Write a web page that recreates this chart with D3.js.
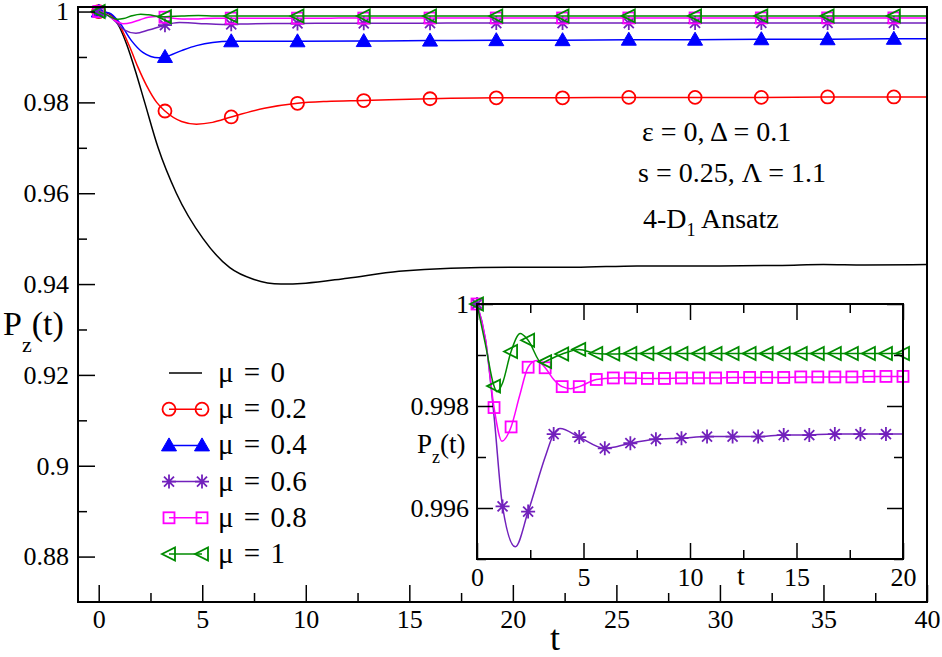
<!DOCTYPE html>
<html lang="en">
<head>
<meta charset="utf-8">
<title>Pz(t)</title>
<script src="https://d3js.org/d3.v7.min.js"></script>
<style>
  body { margin: 0; background: #fff; }
</style>
</head>
<body>
<div id="chart"></div>
<script>
// values, [t, Pz(t)]
const mu0 = [[0,1],[0.5,0.9995],[1,0.9966],[1.34,0.9929],[1.82,0.9862],[2.22,0.980],[2.87,0.970],
  [3.75,0.960],[5.04,0.950],[6.33,0.9436],[7.5,0.9410],[8.8,0.9400],[10,0.9402],[12,0.9413],
  [14.5,0.9428],[17,0.9435],[20,0.9437],[23,0.9437],[26,0.9440],[30,0.9440],[33,0.9441],
  [35,0.9443],[37,0.9442],[40,0.9443]];

const mu02 = [[0,1],[0.5,0.9996],[1,0.9970],[1.5,0.9922],[1.9,0.9877],[2.3,0.9838],[2.8,0.9800],
  [3.2,0.9781],[4,0.9758],[4.72,0.9752],[5.5,0.9756],[6.4,0.9768],[8,0.9787],[9.6,0.9798],
  [11,0.9802],[12.8,0.9804],[16,0.9808],[19.2,0.9810],[22.4,0.9810],[25.6,0.9811],[28.8,0.9811],
  [32,0.9811],[35.2,0.9812],[38.4,0.9812],[40,0.9812]];

const mu04 = [[0,1],[0.5,0.9997],[1,0.9976],[1.58,0.9936],[2.13,0.9910],[2.9,0.9898],[3.2,0.9900],
  [4,0.9914],[4.72,0.9925],[5.5,0.9932],[6.4,0.99345],[9.6,0.99345],[12.8,0.9935],[16,0.9936],
  [19.2,0.9937],[22.4,0.9937],[25.6,0.9938],[28.8,0.9938],[32,0.9939],[35.2,0.9939],
  [38.4,0.9940],[40,0.9940]];

const mu06 = [[0,1],[0.4,0.9993],[0.8,0.9978],[1.2,0.99603],[1.8,0.99524],[2.4,0.99593],
  [3.2,0.9970],[3.6,0.99745],[3.9,0.99756],[4.8,0.99739],[6,0.99717],[6.4,0.99719],
  [7.2,0.99727],[8.4,0.99735],[9.6,0.99737],[10.8,0.9974],[12,0.9974],[12.8,0.9974],
  [13.2,0.9974],[14.4,0.99743],[15.6,0.99743],[16,0.99744],[16.8,0.99745],[18,0.99745],
  [19.2,0.99745],[22.4,0.99746],[25.6,0.99747],[28.8,0.99748],[32,0.99749],[35.2,0.9975],
  [38.4,0.9975],[40,0.9975]];

const mu08 = [[0,1],[0.4,0.9993],[0.8,0.99797],[1.17,0.99731],[1.6,0.99759],[2,0.9982],
  [2.4,0.99876],[2.8,0.99889],[3.2,0.99875],[3.6,0.99852],[4,0.99838],[4.4,0.99834],
  [4.8,0.99838],[5.6,0.99852],[6.4,0.99855],[7.2,0.99855],[8,0.99854],[8.8,0.99854],
  [9.6,0.99855],[10.4,0.99855],[11.2,0.99855],[12,0.99856],[12.8,0.99856],[13.6,0.99856],
  [14.4,0.99856],[15.2,0.99857],[16,0.99857],[16.8,0.99857],[17.6,0.99857],[18.4,0.99858],
  [19.2,0.99858],[20,0.99858],[22.4,0.99858],[25.6,0.99859],[28.8,0.99859],[32,0.9986],
  [35.2,0.9986],[38.4,0.9986],[40,0.9986]];

const mu1 = [[0,1],[0.4,0.9992],[0.8,0.99839],[0.94,0.99828],[1.2,0.99845],[1.6,0.99907],
  [2.03,0.99942],[2.4,0.99929],[3.05,0.99884],[3.2,0.99887],[4,0.99902],[4.8,0.99911],
  [5.6,0.99903],[6.4,0.99902],[7.2,0.99903],[8,0.99903],[8.8,0.99903],[9.6,0.99903],
  [10.4,0.99903],[11.2,0.99903],[12,0.99903],[12.8,0.99903],[13.6,0.99903],[14.4,0.99903],
  [15.2,0.99903],[16,0.99903],[16.8,0.99903],[17.6,0.99903],[18.4,0.99903],[19.2,0.99903],
  [20,0.99903],[22.4,0.99903],[25.6,0.99904],[28.8,0.99904],[32,0.99904],[35.2,0.99904],
  [38.4,0.99904],[40,0.99904]];

const muLabels = ["\u03bc = 0", "\u03bc = 0.2", "\u03bc = 0.4", "\u03bc = 0.6", "\u03bc = 0.8", "\u03bc = 1"];

const xTicks = [0, 5, 10, 15, 20, 25, 30, 35, 40];
const xMinor = [2.5, 7.5, 12.5, 17.5, 22.5, 27.5, 32.5, 37.5];
const yTicks = [0.88, 0.9, 0.92, 0.94, 0.96, 0.98, 1];
const yMinor = [0.89, 0.91, 0.93, 0.95, 0.97, 0.99];

const inXTicks = [0, 5, 10, 15, 20];
const inXMinor = [2.5, 7.5, 12.5, 17.5];
const inYTicks = [0.996, 0.998, 1];
const inYMinor = [0.995, 0.997, 0.999];

// series setup: colour, marker, marker step in main plot / inset
const series = [
  {data: mu0,  color: "#000000", sym: null,     step: null, inStep: null},
  {data: mu02, color: "#ff0000", sym: "circle", step: 3.2,  inStep: null},
  {data: mu04, color: "#0000ff", sym: "tri",    step: 3.2,  inStep: null},
  {data: mu06, color: "#7221bc", sym: "star",   step: 3.2,  inStep: 1.2},
  {data: mu08, color: "#ff00ff", sym: "square", step: 3.2,  inStep: 0.8},
  {data: mu1,  color: "#008b00", sym: "ltri",   step: 3.2,  inStep: 0.8}
];

const FONT = "Liberation Serif";
const W = 942, H = 657;
const svg = d3.select("#chart").append("svg")
  .attr("width", W).attr("height", H)
  .attr("font-family", FONT);

// main plot frame
const fr = {left: 78, right: 927, top: 7, bottom: 602};
const x = d3.scaleLinear().domain([-1, 40]).range([fr.left, fr.right]);
const y = d3.scaleLinear().domain([0.87, 1.001]).range([fr.bottom, fr.top]);

// inset frame
const ir = {left: 477, right: 903, top: 304, bottom: 559};
const ix = d3.scaleLinear().domain([0, 20]).range([ir.left, ir.right]);
const iy = d3.scaleLinear().domain([0.995, 1]).range([ir.bottom, ir.top]);

const defs = svg.append("defs");
defs.append("clipPath").attr("id", "clipMain").append("rect")
  .attr("x", fr.left).attr("y", fr.top).attr("width", fr.right - fr.left).attr("height", fr.bottom - fr.top);
defs.append("clipPath").attr("id", "clipIn").append("rect")
  .attr("x", ir.left).attr("y", ir.top).attr("width", ir.right - ir.left).attr("height", ir.bottom - ir.top);

function onStep(t, step) {
  const k = t / step;
  return Math.abs(k - Math.round(k)) < 1e-6;
}

// draws one marker at (0,0)
function drawSym(g, sym, color) {
  if (sym === "circle") {
    g.append("circle").attr("r", 6.5).attr("fill", "none").attr("stroke", color).attr("stroke-width", 1.8);
  } else if (sym === "tri") {
    g.append("path").attr("d", "M0,-7.5L7.5,5.5L-7.5,5.5Z").attr("fill", color).attr("stroke", color).attr("stroke-width", 1);
  } else if (sym === "star") {
    g.append("path").attr("d", "M-7,0L7,0M0,-7L0,7M-5,-5L5,5M-5,5L5,-5")
      .attr("fill", "none").attr("stroke", color).attr("stroke-width", 1.8);
  } else if (sym === "square") {
    g.append("rect").attr("x", -5.5).attr("y", -5.5).attr("width", 11).attr("height", 11)
      .attr("fill", "none").attr("stroke", color).attr("stroke-width", 1.8);
  } else if (sym === "ltri") {
    g.append("path").attr("d", "M-7,0L6,-6.5L6,6.5Z").attr("fill", "none").attr("stroke", color).attr("stroke-width", 1.8);
  }
}

// lines are clipped to the frame, markers are not
function plotSeries(lineLayer, markLayer, xs, ys, s, step, tMax) {
  const line = d3.line()
    .x(d => xs(d[0])).y(d => ys(d[1]))
    .curve(d3.curveMonotoneX);
  lineLayer.append("path")
    .datum(s.data)
    .attr("fill", "none")
    .attr("stroke", s.color)
    .attr("stroke-width", 1.5)
    .attr("d", line);
  if (!s.sym || !step) return;
  markLayer.selectAll(null)
    .data(s.data.filter(d => d[0] <= tMax + 1e-9 && onStep(d[0], step)))
    .join("g")
      .attr("transform", d => `translate(${xs(d[0])},${ys(d[1])})`)
      .each(function() { drawSym(d3.select(this), s.sym, s.color); });
}

// ---- main plot curves
series.forEach(s => {
  const g = svg.append("g");
  plotSeries(g.append("g").attr("clip-path", "url(#clipMain)"), g, x, y, s, s.step, 40);
});

// main axes, ticks pointing inward
svg.append("g")
  .attr("transform", `translate(0,${fr.bottom})`)
  .call(d3.axisBottom(x).tickValues(xTicks).tickSize(-17).tickPadding(8).tickFormat(d => d))
  .call(g => g.select(".domain").remove());
svg.append("g")
  .attr("transform", `translate(0,${fr.bottom})`)
  .call(d3.axisBottom(x).tickValues(xMinor).tickSize(-9).tickFormat(""))
  .call(g => g.select(".domain").remove());

svg.append("g")
  .attr("transform", `translate(${fr.left},0)`)
  .call(d3.axisLeft(y).tickValues(yTicks).tickSize(-17).tickPadding(9).tickFormat(d => String(d)))
  .call(g => g.select(".domain").remove());
svg.append("g")
  .attr("transform", `translate(${fr.left},0)`)
  .call(d3.axisLeft(y).tickValues(yMinor).tickSize(-9).tickFormat(""))
  .call(g => g.select(".domain").remove());

svg.append("rect")
  .attr("x", fr.left).attr("y", fr.top)
  .attr("width", fr.right - fr.left).attr("height", fr.bottom - fr.top)
  .attr("fill", "none").attr("stroke", "#000").attr("stroke-width", 2);

// axis titles
const yl = svg.append("text").attr("x", 3).attr("y", 335).attr("font-size", 34);
yl.append("tspan").text("P");
yl.append("tspan").attr("font-size", 22).attr("dy", 17).text("z");
yl.append("tspan").attr("dy", -17).text("(t)");

svg.append("text").attr("x", 555).attr("y", 650).attr("text-anchor", "middle")
  .attr("font-size", 36).text("t");

// parameter notes
svg.append("text").attr("x", 642).attr("y", 141).attr("font-size", 28).text("\u03b5 = 0, \u0394 = 0.1");
svg.append("text").attr("x", 638).attr("y", 182).attr("font-size", 28).text("s = 0.25, \u039b = 1.1");
const an = svg.append("text").attr("x", 643).attr("y", 228).attr("font-size", 28);
an.append("tspan").text("4-D");
an.append("tspan").attr("font-size", 18).attr("dy", 8).text("1");
an.append("tspan").attr("dy", -8).text(" Ansatz");

// legend
const legY = d3.scaleLinear().domain([0, 5]).range([373, 554]);
series.forEach((s, i) => {
  const g = svg.append("g").attr("transform", `translate(0,${legY(i)})`);
  g.append("line").attr("x1", 169).attr("x2", 202).attr("stroke", s.color).attr("stroke-width", 1.5);
  if (s.sym) {
    drawSym(g.append("g").attr("transform", "translate(169,0)"), s.sym, s.color);
    drawSym(g.append("g").attr("transform", "translate(202,0)"), s.sym, s.color);
  }
  g.append("text").attr("x", 218).attr("y", 9).attr("font-size", 29)
    .attr("word-spacing", 3).text(muLabels[i]);
});

// ---- inset
svg.append("rect")
  .attr("x", ir.left).attr("y", ir.top)
  .attr("width", ir.right - ir.left).attr("height", ir.bottom - ir.top)
  .attr("fill", "#fff");

series.filter(s => s.inStep).forEach(s => {
  const g = svg.append("g");
  plotSeries(g.append("g").attr("clip-path", "url(#clipIn)"), g, ix, iy, s, s.inStep, 20);
});

const inAxes = svg.append("g");
inAxes.append("g")
  .attr("transform", `translate(0,${ir.bottom})`)
  .call(d3.axisBottom(ix).tickValues(inXTicks).tickSize(-16).tickPadding(9).tickFormat(d => d));
inAxes.append("g")
  .attr("transform", `translate(0,${ir.bottom})`)
  .call(d3.axisBottom(ix).tickValues(inXMinor).tickSize(-9).tickFormat(""));
inAxes.append("g")
  .attr("transform", `translate(0,${ir.top})`)
  .call(d3.axisTop(ix).tickValues(inXTicks).tickSize(-16).tickFormat(""));
inAxes.append("g")
  .attr("transform", `translate(0,${ir.top})`)
  .call(d3.axisTop(ix).tickValues(inXMinor).tickSize(-9).tickFormat(""));
inAxes.append("g")
  .attr("transform", `translate(${ir.left},0)`)
  .call(d3.axisLeft(iy).tickValues(inYTicks).tickSize(-16).tickPadding(8).tickFormat(d => String(d)));
inAxes.append("g")
  .attr("transform", `translate(${ir.left},0)`)
  .call(d3.axisLeft(iy).tickValues(inYMinor).tickSize(-9).tickFormat(""));
inAxes.append("g")
  .attr("transform", `translate(${ir.right},0)`)
  .call(d3.axisRight(iy).tickValues(inYTicks).tickSize(-16).tickFormat(""));
inAxes.append("g")
  .attr("transform", `translate(${ir.right},0)`)
  .call(d3.axisRight(iy).tickValues(inYMinor).tickSize(-9).tickFormat(""));
inAxes.selectAll(".domain").remove();

svg.append("rect")
  .attr("x", ir.left).attr("y", ir.top)
  .attr("width", ir.right - ir.left).attr("height", ir.bottom - ir.top)
  .attr("fill", "none").attr("stroke", "#000").attr("stroke-width", 2);

const il = svg.append("text").attr("x", 417).attr("y", 453).attr("font-size", 27);
il.append("tspan").text("P");
il.append("tspan").attr("font-size", 18).attr("dy", 10).text("z");
il.append("tspan").attr("dy", -10).text("(t)");

svg.append("text").attr("x", 741).attr("y", 585).attr("text-anchor", "middle")
  .attr("font-size", 28).text("t");

// axis text and tick styling
svg.selectAll(".tick text").attr("font-size", 26).attr("font-family", FONT).attr("fill", "#000");
svg.selectAll(".tick line").attr("stroke", "#000").attr("stroke-width", 1.5);
</script>
</body>
</html>
